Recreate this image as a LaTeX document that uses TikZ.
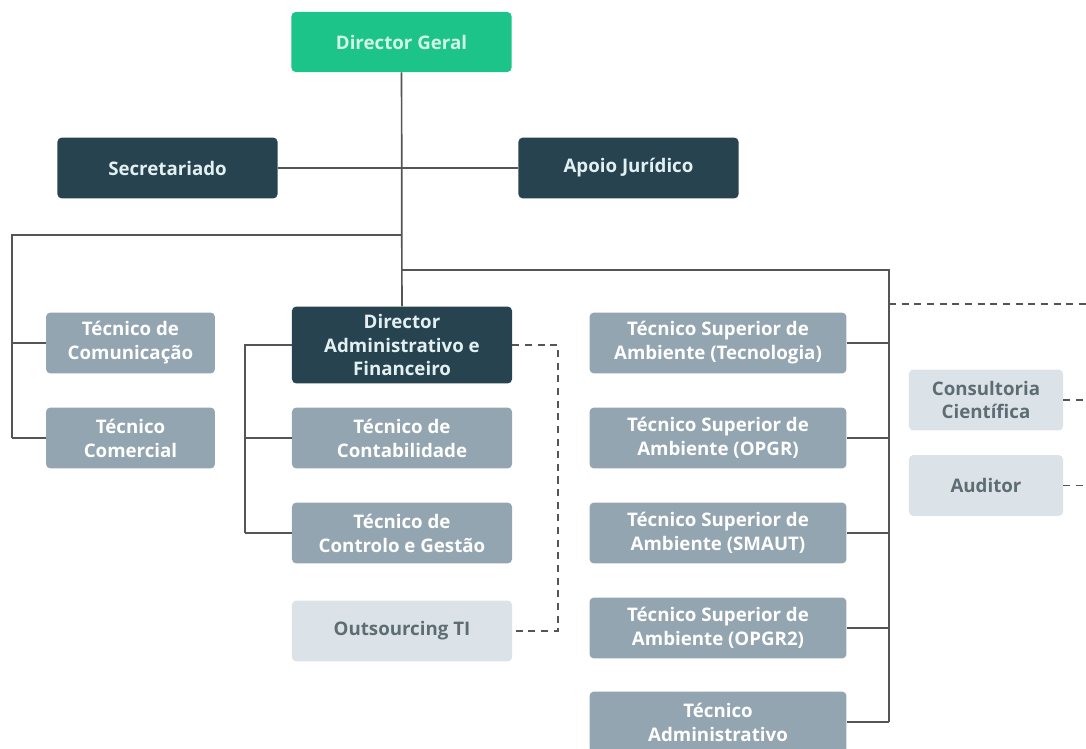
\documentclass[tikz,border=0pt]{standalone}
\usepackage{fontspec}
\setmainfont{Open Sans}
\usepackage{tikz}
\usetikzlibrary{positioning}
\definecolor{vert}{HTML}{1DC48A}
\definecolor{vertclair}{HTML}{D2F6E6}
\definecolor{fonce}{HTML}{27434F}
\definecolor{textefonce}{HTML}{E2F0F2}
\definecolor{gris}{HTML}{93A5B1}
\definecolor{clair}{HTML}{DCE3E8}
\definecolor{texteclair}{HTML}{5E6C74}
\definecolor{ligne}{HTML}{555555}
\tikzstyle{boite} = [rounded corners=3pt,align=center,inner sep=0pt,font=\fontsize{13.3}{17}\selectfont\bfseries]
\tikzstyle{chef} = [boite,fill=vert,text=vertclair,minimum width=5.5cm,minimum height=1.5cm]
\tikzstyle{fonce} = [boite,fill=fonce,text=textefonce,minimum width=5.5cm,minimum height=1.52cm]
\tikzstyle{tech} = [boite,fill=gris,text=white,minimum height=1.52cm]
\tikzstyle{externe} = [boite,fill=clair,text=texteclair,minimum height=1.52cm]
\tikzstyle{trait} = [ligne,line width=1.2pt]
\tikzstyle{pointille} = [ligne,line width=1.2pt,dash pattern=on 5pt off 4pt]

\begin{document}
\begin{tikzpicture}[x=0.025cm,y=-0.025cm]
\useasboundingbox (0,0) rectangle (1086,749);

%% Direction
	\node[chef] (geral) at (401.5,42) {Director Geral};
	\node[fonce] (secr) at (167.5,168) {Secretariado};
	\node[fonce] (apoio) at (628.5,168) {Apoio Jurídico};

%% Colonne de gauche
	\node[tech,minimum width=4.22cm] (com) at (130.5,343) {Técnico de\\Comunicação};
	\node[tech,minimum width=4.22cm] (comer) at (130.5,438) {Técnico\\Comercial};

%% Direction administrative et financiere
	\node[fonce,minimum height=1.92cm] (daf) at (402,345) {Director\\Administrativo e\\Financeiro};
	\node[tech,minimum width=5.5cm] (conta) at (402,438) {Técnico de\\Contabilidade};
	\node[tech,minimum width=5.5cm] (contr) at (402,533) {Técnico de\\Controlo e Gestão};
	\node[externe,minimum width=5.5cm] (outs) at (402,631) {Outsourcing TI};

%% Techniciens superieurs
	\node[tech,minimum width=6.42cm] (tsa1) at (718,343) {Técnico Superior de\\Ambiente (Tecnologia)};
	\node[tech,minimum width=6.42cm] (tsa2) at (718,438) {Técnico Superior de\\Ambiente (OPGR)};
	\node[tech,minimum width=6.42cm] (tsa3) at (718,533) {Técnico Superior de\\Ambiente (SMAUT)};
	\node[tech,minimum width=6.42cm] (tsa4) at (718,628) {Técnico Superior de\\Ambiente (OPGR2)};
	\node[tech,minimum width=6.42cm] (tadm) at (718,722) {Técnico\\Administrativo};

%% Externes
	\node[externe,minimum width=3.85cm] (cons) at (986,400) {Consultoria\\Científica};
	\node[externe,minimum width=3.85cm] (aud) at (986,485.5) {Auditor};

%% Points de jonction
	\coordinate (j1) at (402,235);
	\coordinate (j2) at (402,270);
	\coordinate (g1) at (12,235);
	\coordinate (g2) at (12,343);
	\coordinate (g3) at (12,438);
	\coordinate (d1) at (889,270);
	\coordinate (d5) at (889,722);
	\coordinate (b1) at (245,345);
	\coordinate (b3) at (245,533);
	\coordinate (p1) at (558,345);
	\coordinate (e0) at (889,304);
	\coordinate (e1) at (1086,304);
	\coordinate (e2) at (1086,400);
	\coordinate (e3) at (1086,485.5);

%% Traits pleins
	\draw[trait] (geral) -- (daf);
	\draw[trait] (secr) -- (apoio);
	\draw[trait] (j1) -- (g1) -- (g3);
	\draw[trait] (com) -- (g2);
	\draw[trait] (comer) -- (g3);
	\draw[trait] (j2) -- (d1) -- (d5);
	\foreach \n in {tsa1,tsa2,tsa3,tsa4,tadm}
		\draw[trait] (\n.east) -- (\n.east -| d1);
	\draw[trait] (daf.west) -- (b1) -- (b3);
	\draw[trait] (conta.west) -- (conta.west -| b1);
	\draw[trait] (contr.west) -- (b3);

%% Pointilles
	\draw[pointille] (daf.east) -- (p1) |- (outs.east);
	\draw[pointille] (e0) -- (e1);
	\draw[pointille] (cons.east) -- (e2);
	\draw[pointille] (aud.east) -- (e3);

\end{tikzpicture}
\end{document}
